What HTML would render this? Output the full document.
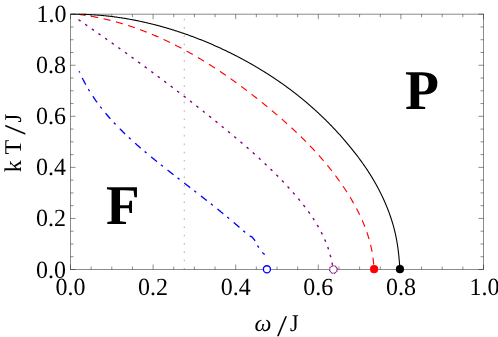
<!DOCTYPE html>
<html><head><meta charset="utf-8"><title>Phase diagram</title>
<style>
html,body{margin:0;padding:0;background:#fff;}
body{width:498px;height:337px;position:relative;overflow:hidden;font-family:"Liberation Serif",serif;}
svg text{font-family:"Liberation Serif",serif;fill:#000;text-rendering:geometricPrecision;}
</style></head><body>
<svg width="498" height="337" viewBox="0 0 498 337" style="position:absolute;left:0;top:0;will-change:transform">
<rect width="498" height="337" fill="#fff"/>
<line x1="184.3" y1="269.5" x2="184.3" y2="14.2" stroke="#b8b8b8" stroke-width="1.2" stroke-dasharray="1.5 6.807"/>
<path d="M79.18,71.20 L79.32,71.52 L79.46,71.84 L79.60,72.16 L79.74,72.48 L79.88,72.79 L80.02,73.11 L80.17,73.42 L80.31,73.74 L80.45,74.05 L80.60,74.37 L80.74,74.68 L80.89,75.00 L81.03,75.31 L81.18,75.62 L81.33,75.93 L81.48,76.25 L81.63,76.56 L81.77,76.87 L81.93,77.18 L82.08,77.49 L82.23,77.80 L82.38,78.11 L82.53,78.41 L82.69,78.72 L82.84,79.03 L82.99,79.34 L83.15,79.64 L83.30,79.95 L83.46,80.25 L83.62,80.56 L83.78,80.86 L83.93,81.17 L84.09,81.47 L84.25,81.77 L84.41,82.08 L84.57,82.38 L84.73,82.68 L84.90,82.98 L85.06,83.28 L85.22,83.58 L85.38,83.88 L85.55,84.18 L85.71,84.48 L85.88,84.78 L86.04,85.08 L86.21,85.38 L86.38,85.68 L86.55,85.97 L86.71,86.27 L86.88,86.57 L87.05,86.86 L87.22,87.16 L87.39,87.45 L87.56,87.75 L87.74,88.04 L87.91,88.33 L88.08,88.63 L88.25,88.92 L88.43,89.21 L88.60,89.50 L88.78,89.80 L88.95,90.09 L89.13,90.38 L89.31,90.67 L89.48,90.96 L89.66,91.25 L89.84,91.54 L90.02,91.82 L90.20,92.11 L90.38,92.40 L90.56,92.69 L90.74,92.97 L90.92,93.26 L91.10,93.55 L91.29,93.83 L91.47,94.12 L91.65,94.40 L91.84,94.69 L92.02,94.97 L92.21,95.26 L92.39,95.54 L92.58,95.82 L92.77,96.10 L92.95,96.39 L93.14,96.67 L93.33,96.95 L93.52,97.23 L93.71,97.51 L93.90,97.79 L94.09,98.07 L94.28,98.35 L94.47,98.63 L94.66,98.91 L94.86,99.19 L95.05,99.46 L95.24,99.74 L95.44,100.02 L95.63,100.29 L95.83,100.57 L96.02,100.85 L96.22,101.12 L96.41,101.40 L96.61,101.67 L96.81,101.95 L97.01,102.22 L97.21,102.49 L97.40,102.77 L97.60,103.04 L97.80,103.31 L98.00,103.58 L98.21,103.86 L98.41,104.13 L98.61,104.40 L98.81,104.67 L99.01,104.94 L99.22,105.21 L99.42,105.48 L99.62,105.75 L99.83,106.02 L100.03,106.29 L100.24,106.55 L100.45,106.82 L100.65,107.09 L100.86,107.36 L101.07,107.62 L101.27,107.89 L101.48,108.16 L101.69,108.42 L101.90,108.69 L102.11,108.95 L102.32,109.22 L102.53,109.48 L102.74,109.75 L102.95,110.01 L103.16,110.27 L103.38,110.54 L103.59,110.80 L103.80,111.06 L104.02,111.32 L104.23,111.58 L104.44,111.85 L104.66,112.11 L104.87,112.37 L105.09,112.63 L105.31,112.89 L105.52,113.15 L105.74,113.41 L105.96,113.67 L106.17,113.92 L106.39,114.18 L106.61,114.44 L106.83,114.70 L107.05,114.96 L107.27,115.21 L107.49,115.47 L107.71,115.73 L107.93,115.98 L108.15,116.24 L108.37,116.49 L108.59,116.75 L108.82,117.00 L109.04,117.26 L109.26,117.51 L109.49,117.77 L109.71,118.02 L109.94,118.27 L110.16,118.53 L110.39,118.78 L110.61,119.03 L110.84,119.28 L111.06,119.54 L111.29,119.79 L111.52,120.04 L111.74,120.29 L111.97,120.54 L112.20,120.79 L112.43,121.04 L112.66,121.29 L112.89,121.54 L113.12,121.79 L113.35,122.04 L113.58,122.29 L113.81,122.53 L114.04,122.78 L114.27,123.03 L114.50,123.28 L114.73,123.52 L114.97,123.77 L115.20,124.02 L115.43,124.26 L115.67,124.51 L115.90,124.76 L116.13,125.00 L116.37,125.25 L116.60,125.49 L116.84,125.74 L117.07,125.98 L117.31,126.22 L117.55,126.47 L117.78,126.71 L118.02,126.95 L118.26,127.20 L118.49,127.44 L118.73,127.68 L118.97,127.93 L119.21,128.17 L119.45,128.41 L119.69,128.65 L119.93,128.89 L120.17,129.13 L120.41,129.37 L120.65,129.61 L120.89,129.85 L121.13,130.09 L121.37,130.33 L121.61,130.57 L121.85,130.81 L122.09,131.05 L122.34,131.29 L122.58,131.53 L122.82,131.77 L123.07,132.00 L123.31,132.24 L123.55,132.48 L123.80,132.72 L124.04,132.95 L124.29,133.19 L124.53,133.43 L124.78,133.66 L125.02,133.90 L125.27,134.13 L125.51,134.37 L125.76,134.61 L126.01,134.84 L126.25,135.08 L126.50,135.31 L126.75,135.54 L127.00,135.78 L127.24,136.01 L127.49,136.25 L127.74,136.48 L127.99,136.71 L128.24,136.95 L128.49,137.18 L128.74,137.41 L128.99,137.64 L129.24,137.88 L129.49,138.11 L129.74,138.34 L129.99,138.57 L130.24,138.80 L130.49,139.03 L130.74,139.26 L130.99,139.50 L131.24,139.73 L131.50,139.96 L131.75,140.19 L132.00,140.42 L132.25,140.65 L132.51,140.87 L132.76,141.10 L133.01,141.33 L133.27,141.56 L133.52,141.79 L133.78,142.02 L134.03,142.25 L134.29,142.48 L134.54,142.70 L134.80,142.93 L135.05,143.16 L135.31,143.39 L135.56,143.61 L135.82,143.84 L136.07,144.07 L136.33,144.29 L136.59,144.52 L136.84,144.75 L137.10,144.97 L137.36,145.20 L137.61,145.42 L137.87,145.65 L138.13,145.87 L138.39,146.10 L138.64,146.32 L138.90,146.55 L139.16,146.77 L139.42,147.00 L139.68,147.22 L139.94,147.45 L140.20,147.67 L140.46,147.89 L140.72,148.12 L140.98,148.34 L141.23,148.56 L141.49,148.79 L141.75,149.01 L142.02,149.23 L142.28,149.45 L142.54,149.68 L142.80,149.90 L143.06,150.12 L143.32,150.34 L143.58,150.56 L143.84,150.79 L144.10,151.01 L144.36,151.23 L144.63,151.45 L144.89,151.67 L145.15,151.89 L145.41,152.11 L145.68,152.33 L145.94,152.55 L146.20,152.77 L146.46,152.99 L146.73,153.21 L146.99,153.43 L147.25,153.65 L147.52,153.87 L147.78,154.09 L148.04,154.31 L148.31,154.53 L148.57,154.75 L148.84,154.97 L149.10,155.19 L149.36,155.41 L149.63,155.62 L149.89,155.84 L150.16,156.06 L150.42,156.28 L150.69,156.50 L150.95,156.72 L151.22,156.93 L151.48,157.15 L151.75,157.37 L152.01,157.59 L152.28,157.80 L152.54,158.02 L152.81,158.24 L153.07,158.45 L153.34,158.67 L153.61,158.89 L153.87,159.10 L154.14,159.32 L154.40,159.54 L154.67,159.75 L154.94,159.97 L155.20,160.18 L155.47,160.40 L155.74,160.62 L156.00,160.83 L156.27,161.05 L156.54,161.26 L156.80,161.48 L157.07,161.69 L157.34,161.91 L157.60,162.12 L157.87,162.34 L158.14,162.55 L158.41,162.77 L158.67,162.98 L158.94,163.20 L159.21,163.41 L159.48,163.63 L159.74,163.84 L160.01,164.06 L160.28,164.27 L160.55,164.48 L160.81,164.70 L161.08,164.91 L161.35,165.13 L161.62,165.34 L161.89,165.55 L162.16,165.77 L162.42,165.98 L162.69,166.19 L162.96,166.41 L163.23,166.62 L163.50,166.83 L163.77,167.05 L164.03,167.26 L164.30,167.47 L164.57,167.69 L164.84,167.90 L165.11,168.11 L165.38,168.32 L165.65,168.54 L165.92,168.75 L166.18,168.96 L166.45,169.17 L166.72,169.39 L166.99,169.60 L167.26,169.81 L167.53,170.02 L167.80,170.23 L168.07,170.45 L168.34,170.66 L168.61,170.87 L168.88,171.08 L169.15,171.29 L169.41,171.50 L169.68,171.72 L169.95,171.93 L170.22,172.14 L170.49,172.35 L170.76,172.56 L171.03,172.77 L171.30,172.98 L171.57,173.19 L171.84,173.41 L172.11,173.62 L172.38,173.83 L172.65,174.04 L172.92,174.25 L173.19,174.46 L173.46,174.67 L173.73,174.88 L174.00,175.09 L174.27,175.30 L174.54,175.51 L174.81,175.72 L175.08,175.93 L175.35,176.15 L175.62,176.36 L175.89,176.57 L176.16,176.78 L176.43,176.99 L176.70,177.20 L176.97,177.41 L177.24,177.62 L177.51,177.83 L177.78,178.04 L178.06,178.25 L178.33,178.46 L178.60,178.67 L178.87,178.88 L179.14,179.09 L179.41,179.30 L179.68,179.51 L179.95,179.72 L180.22,179.93 L180.49,180.14 L180.76,180.35 L181.03,180.56 L181.30,180.77 L181.57,180.98 L181.84,181.19 L182.11,181.39 L182.38,181.60 L182.65,181.81 L182.92,182.02 L183.20,182.23 L183.47,182.44 L183.74,182.65 L184.01,182.86 L184.28,183.07 L184.55,183.28 L184.82,183.49 L185.09,183.70 L185.36,183.91 L185.63,184.12 L185.90,184.33 L186.17,184.54 L186.44,184.75 L186.71,184.96 L186.98,185.17 L187.25,185.37 L187.53,185.58 L187.80,185.79 L188.07,186.00 L188.34,186.21 L188.61,186.42 L188.88,186.63 L189.15,186.84 L189.42,187.05 L189.69,187.26 L189.96,187.47 L190.23,187.68 L190.50,187.89 L190.77,188.10 L191.04,188.31 L191.31,188.51 L191.58,188.72 L191.85,188.93 L192.13,189.14 L192.40,189.35 L192.67,189.56 L192.94,189.77 L193.21,189.98 L193.48,190.19 L193.75,190.40 L194.02,190.61 L194.29,190.82 L194.56,191.03 L194.83,191.24 L195.10,191.45 L195.37,191.66 L195.64,191.87 L195.91,192.07 L196.18,192.28 L196.45,192.49 L196.72,192.70 L196.99,192.91 L197.26,193.12 L197.53,193.33 L197.80,193.54 L198.07,193.75 L198.34,193.96 L198.61,194.17 L198.88,194.38 L199.15,194.59 L199.42,194.80 L199.69,195.01 L199.96,195.22 L200.23,195.43 L200.50,195.64 L200.77,195.85 L201.04,196.06 L201.31,196.27 L201.58,196.48 L201.85,196.69 L202.11,196.90 L202.38,197.11 L202.65,197.32 L202.92,197.53 L203.19,197.74 L203.46,197.95 L203.73,198.16 L204.00,198.37 L204.27,198.58 L204.54,198.79 L204.81,199.01 L205.08,199.22 L205.34,199.43 L205.61,199.64 L205.88,199.85 L206.15,200.06 L206.42,200.27 L206.69,200.48 L206.96,200.69 L207.23,200.90 L207.49,201.11 L207.76,201.33 L208.03,201.54 L208.30,201.75 L208.57,201.96 L208.84,202.17 L209.10,202.38 L209.37,202.59 L209.64,202.81 L209.91,203.02 L210.18,203.23 L210.44,203.44 L210.71,203.65 L210.98,203.86 L211.25,204.08 L211.51,204.29 L211.78,204.50 L212.05,204.71 L212.32,204.92 L212.58,205.14 L212.85,205.35 L213.12,205.56 L213.39,205.77 L213.65,205.99 L213.92,206.20 L214.19,206.41 L214.45,206.63 L214.72,206.84 L214.99,207.05 L215.25,207.26 L215.52,207.48 L215.79,207.69 L216.05,207.90 L216.32,208.12 L216.59,208.33 L216.85,208.54 L217.12,208.76 L217.38,208.97 L217.65,209.19 L217.92,209.40 L218.18,209.61 L218.45,209.83 L218.71,210.04 L218.98,210.26 L219.24,210.47 L219.51,210.68 L219.77,210.90 L220.04,211.11 L220.30,211.33 L220.57,211.54 L220.83,211.76 L221.10,211.97 L221.36,212.19 L221.63,212.40 L221.89,212.62 L222.16,212.83 L222.42,213.05 L222.69,213.26 L222.95,213.48 L223.21,213.70 L223.48,213.91 L223.74,214.13 L224.01,214.34 L224.27,214.56 L224.53,214.78 L224.80,214.99 L225.06,215.21 L225.32,215.43 L225.59,215.64 L225.85,215.86 L226.11,216.08 L226.38,216.29 L226.64,216.51 L226.90,216.73 L227.17,216.95 L227.43,217.16 L227.69,217.38 L227.95,217.60 L228.21,217.82 L228.48,218.03 L228.74,218.25 L229.00,218.47 L229.26,218.69 L229.52,218.91 L229.79,219.13 L230.05,219.34 L230.31,219.56 L230.57,219.78 L230.83,220.00 L231.09,220.22 L231.35,220.44 L231.61,220.66 L231.88,220.88 L232.14,221.10 L232.40,221.32 L232.66,221.54 L232.92,221.76 L233.18,221.98 L233.44,222.20 L233.70,222.42 L233.96,222.64 L234.22,222.86 L234.48,223.08 L234.74,223.30 L234.99,223.52 L235.25,223.75 L235.51,223.97 L235.77,224.19 L236.03,224.41 L236.29,224.63 L236.55,224.85 L236.81,225.08 L237.06,225.30 L237.32,225.52 L237.58,225.74 L237.84,225.97 L238.10,226.19 L238.35,226.41 L238.61,226.64 L238.87,226.86 L239.13,227.08 L239.38,227.31 L239.64,227.53 L239.90,227.76 L240.15,227.98 L240.41,228.20 L240.67,228.43 L240.92,228.65 L241.18,228.88 L241.43,229.10 L241.69,229.33 L241.95,229.55 L242.20,229.78 L242.46,230.00 L242.71,230.23 L242.97,230.46 L243.22,230.68 L243.48,230.91 L243.73,231.14 L243.99,231.36 L244.24,231.59 L244.50,231.82 L244.75,232.04 L245.00,232.27 L245.26,232.50 L245.51,232.73 L245.77,232.95 L246.02,233.18 L246.27,233.41 L246.53,233.64 L246.78,233.87 L247.03,234.09 L247.28,234.32 L247.54,234.55 L247.79,234.78 L248.04,235.01 L248.29,235.24 L248.54,235.47 L248.80,235.70 L249.25,236.20 L249.67,236.23 L250.09,236.29 L250.49,236.37 L250.90,236.49 L251.30,236.65 L251.67,236.83 L252.00,237.06 L252.30,237.33 L252.59,237.65 L252.87,237.98 L253.14,238.31 L253.42,238.64 L253.68,238.96 L253.95,239.28 L254.21,239.62 L254.46,239.96 L254.70,240.30 L254.93,240.64 L255.15,241.00 L255.37,241.35 L255.57,241.72 L255.77,242.08 L255.97,242.46 L256.16,242.83 L256.35,243.20 L256.54,243.58 L256.73,243.96 L256.92,244.34 L257.11,244.71 L257.30,245.08 L257.50,245.45 L257.70,245.82 L257.91,246.18 L258.13,246.54 L258.35,246.90 L258.57,247.25 L258.79,247.61 L259.02,247.96 L259.25,248.31 L259.48,248.67 L259.72,249.02 L259.96,249.36 L260.20,249.71 L260.45,250.05 L260.70,250.39 L260.95,250.72 L261.21,251.05 L261.47,251.38 L261.74,251.70 L262.01,252.01 L262.29,252.32 L262.57,252.62 L262.87,252.91 L263.17,253.21 L263.47,253.49 L263.79,253.78 L264.10,254.06 L264.42,254.33 L264.75,254.60" fill="none" stroke="#0000ff" stroke-width="1.35" stroke-dasharray="2.4 6.02 7.5 5.18" stroke-dashoffset="0.92"/>
<path d="M78.20,19.45 L78.63,19.75 L79.06,20.04 L79.49,20.34 L79.92,20.64 L80.35,20.94 L80.78,21.23 L81.21,21.53 L81.64,21.83 L82.07,22.12 L82.50,22.42 L82.93,22.72 L83.36,23.02 L83.79,23.31 L84.22,23.61 L84.65,23.91 L85.08,24.21 L85.51,24.50 L85.94,24.80 L86.37,25.10 L86.80,25.40 L87.23,25.69 L87.66,25.99 L88.09,26.29 L88.52,26.59 L88.95,26.89 L89.38,27.18 L89.81,27.48 L90.24,27.78 L90.66,28.08 L91.09,28.38 L91.52,28.67 L91.95,28.97 L92.38,29.27 L92.81,29.57 L93.24,29.87 L93.66,30.17 L94.09,30.47 L94.52,30.76 L94.95,31.06 L95.38,31.36 L95.81,31.66 L96.23,31.96 L96.66,32.26 L97.09,32.56 L97.52,32.86 L97.94,33.16 L98.37,33.46 L98.80,33.76 L99.23,34.05 L99.65,34.35 L100.08,34.65 L100.51,34.95 L100.94,35.25 L101.36,35.55 L101.79,35.85 L102.22,36.15 L102.64,36.45 L103.07,36.75 L103.50,37.05 L103.92,37.35 L104.35,37.65 L104.78,37.95 L105.20,38.25 L105.63,38.55 L106.05,38.85 L106.48,39.15 L106.91,39.45 L107.33,39.76 L107.76,40.06 L108.18,40.36 L108.61,40.66 L109.04,40.96 L109.46,41.26 L109.89,41.56 L110.31,41.86 L110.74,42.16 L111.16,42.46 L111.59,42.77 L112.01,43.07 L112.44,43.37 L112.86,43.67 L113.29,43.97 L113.71,44.27 L114.14,44.57 L114.56,44.88 L114.99,45.18 L115.41,45.48 L115.83,45.78 L116.26,46.08 L116.68,46.39 L117.11,46.69 L117.53,46.99 L117.96,47.29 L118.38,47.60 L118.80,47.90 L119.23,48.20 L119.65,48.50 L120.07,48.81 L120.50,49.11 L120.92,49.41 L121.34,49.72 L121.77,50.02 L122.19,50.32 L122.61,50.63 L123.04,50.93 L123.46,51.23 L123.88,51.54 L124.31,51.84 L124.73,52.14 L125.15,52.45 L125.57,52.75 L126.00,53.05 L126.42,53.36 L126.84,53.66 L127.26,53.97 L127.69,54.27 L128.11,54.58 L128.53,54.88 L128.95,55.18 L129.37,55.49 L129.80,55.79 L130.22,56.10 L130.64,56.40 L131.06,56.71 L131.48,57.01 L131.91,57.32 L132.33,57.62 L132.75,57.93 L133.17,58.23 L133.59,58.54 L134.01,58.84 L134.43,59.15 L134.85,59.46 L135.27,59.76 L135.69,60.07 L136.12,60.37 L136.54,60.68 L136.96,60.98 L137.38,61.29 L137.80,61.60 L138.22,61.90 L138.64,62.21 L139.06,62.52 L139.48,62.82 L139.90,63.13 L140.32,63.44 L140.74,63.74 L141.16,64.05 L141.58,64.36 L142.00,64.66 L142.42,64.97 L142.84,65.28 L143.26,65.59 L143.68,65.89 L144.09,66.20 L144.51,66.51 L144.93,66.82 L145.35,67.13 L145.77,67.43 L146.19,67.74 L146.61,68.05 L147.03,68.36 L147.45,68.67 L147.86,68.97 L148.28,69.28 L148.70,69.59 L149.12,69.90 L149.54,70.21 L149.96,70.52 L150.37,70.83 L150.79,71.14 L151.21,71.45 L151.63,71.76 L152.05,72.06 L152.46,72.37 L152.88,72.68 L153.30,72.99 L153.72,73.30 L154.13,73.61 L154.55,73.92 L154.97,74.23 L155.38,74.54 L155.80,74.85 L156.22,75.16 L156.64,75.48 L157.05,75.79 L157.47,76.10 L157.89,76.41 L158.30,76.72 L158.72,77.03 L159.13,77.34 L159.55,77.65 L159.97,77.96 L160.38,78.28 L160.80,78.59 L161.22,78.90 L161.63,79.21 L162.05,79.52 L162.46,79.83 L162.88,80.15 L163.29,80.46 L163.71,80.77 L164.13,81.08 L164.54,81.40 L164.96,81.71 L165.37,82.02 L165.79,82.33 L166.20,82.65 L166.62,82.96 L167.03,83.27 L167.45,83.59 L167.86,83.90 L168.28,84.21 L168.69,84.53 L169.11,84.84 L169.52,85.16 L169.93,85.47 L170.35,85.78 L170.76,86.10 L171.18,86.41 L171.59,86.73 L172.01,87.04 L172.42,87.36 L172.83,87.67 L173.25,87.98 L173.66,88.30 L174.07,88.62 L174.49,88.93 L174.90,89.25 L175.31,89.56 L175.73,89.88 L176.14,90.19 L176.55,90.51 L176.97,90.82 L177.38,91.14 L177.79,91.46 L178.21,91.77 L178.62,92.09 L179.03,92.41 L179.44,92.72 L179.86,93.04 L180.27,93.36 L180.68,93.67 L181.09,93.99 L181.51,94.31 L181.92,94.62 L182.33,94.94 L182.74,95.26 L183.15,95.58 L183.56,95.89 L183.98,96.21 L184.39,96.53 L184.80,96.85 L185.21,97.17 L185.62,97.49 L186.03,97.80 L186.45,98.12 L186.86,98.44 L187.27,98.76 L187.68,99.08 L188.09,99.40 L188.50,99.72 L188.91,100.04 L189.32,100.36 L189.73,100.68 L190.14,101.00 L190.55,101.32 L190.96,101.64 L191.37,101.96 L191.78,102.28 L192.19,102.60 L192.60,102.92 L193.01,103.24 L193.42,103.56 L193.83,103.88 L194.24,104.20 L194.65,104.52 L195.06,104.84 L195.47,105.17 L195.88,105.49 L196.29,105.81 L196.70,106.13 L197.11,106.45 L197.52,106.78 L197.93,107.10 L198.34,107.42 L198.74,107.74 L199.15,108.07 L199.56,108.39 L199.97,108.71 L200.38,109.03 L200.79,109.36 L201.20,109.68 L201.60,110.00 L202.01,110.33 L202.42,110.65 L202.83,110.98 L203.24,111.30 L203.64,111.62 L204.05,111.95 L204.46,112.27 L204.87,112.60 L205.27,112.92 L205.68,113.25 L206.09,113.57 L206.50,113.90 L206.90,114.22 L207.31,114.55 L207.72,114.87 L208.13,115.20 L208.53,115.52 L208.94,115.85 L209.35,116.18 L209.75,116.50 L210.16,116.83 L210.57,117.16 L210.97,117.48 L211.38,117.81 L211.78,118.14 L212.19,118.46 L212.60,118.79 L213.00,119.12 L213.41,119.44 L213.81,119.77 L214.22,120.10 L214.63,120.43 L215.03,120.76 L215.44,121.08 L215.84,121.41 L216.25,121.74 L216.65,122.07 L217.06,122.40 L217.46,122.73 L217.87,123.06 L218.27,123.39 L218.68,123.72 L219.08,124.04 L219.49,124.37 L219.89,124.70 L220.30,125.03 L220.70,125.36 L221.11,125.69 L221.51,126.03 L221.91,126.36 L222.32,126.69 L222.72,127.02 L223.13,127.35 L223.53,127.68 L223.93,128.01 L224.34,128.34 L224.74,128.67 L225.15,129.01 L225.55,129.34 L225.95,129.67 L226.36,130.00 L226.76,130.33 L227.16,130.67 L227.57,131.00 L227.97,131.33 L228.37,131.67 L228.77,132.00 L229.18,132.33 L229.58,132.67 L229.98,133.00 L230.38,133.33 L230.78,133.67 L231.19,134.00 L231.59,134.34 L231.99,134.67 L232.39,135.01 L232.79,135.34 L233.19,135.68 L233.59,136.01 L233.99,136.35 L234.40,136.69 L234.80,137.02 L235.20,137.36 L235.60,137.69 L236.00,138.03 L236.40,138.37 L236.80,138.71 L237.20,139.04 L237.59,139.38 L237.99,139.72 L238.39,140.06 L238.79,140.40 L239.19,140.73 L239.59,141.07 L239.99,141.41 L240.38,141.75 L240.78,142.09 L241.18,142.43 L241.58,142.77 L241.97,143.11 L242.37,143.45 L242.77,143.79 L243.17,144.13 L243.56,144.47 L243.96,144.82 L244.35,145.16 L244.75,145.50 L245.14,145.84 L245.54,146.18 L245.93,146.53 L246.33,146.87 L246.72,147.21 L247.12,147.56 L247.51,147.90 L247.91,148.25 L248.30,148.59 L248.69,148.93 L249.09,149.28 L249.48,149.62 L249.87,149.97 L250.26,150.32 L250.66,150.66 L251.05,151.01 L251.44,151.36 L251.83,151.70 L252.22,152.05 L252.61,152.40 L253.00,152.74 L253.39,153.09 L253.78,153.44 L254.17,153.79 L254.56,154.14 L254.95,154.49 L255.34,154.84 L255.73,155.19 L256.12,155.54 L256.50,155.89 L256.89,156.24 L257.28,156.59 L257.66,156.94 L258.05,157.29 L258.44,157.65 L258.82,158.00 L259.21,158.35 L259.59,158.70 L259.98,159.06 L260.36,159.41 L260.75,159.77 L261.13,160.12 L261.51,160.48 L261.90,160.83 L262.28,161.19 L262.66,161.54 L263.05,161.90 L263.43,162.25 L263.81,162.61 L264.19,162.97 L264.57,163.33 L264.95,163.68 L265.33,164.04 L265.71,164.40 L266.09,164.76 L266.47,165.12 L266.85,165.48 L267.23,165.84 L267.60,166.20 L267.98,166.56 L268.36,166.92 L268.74,167.28 L269.11,167.65 L269.49,168.01 L269.86,168.37 L270.24,168.73 L270.61,169.10 L270.99,169.46 L271.36,169.83 L271.73,170.19 L272.11,170.55 L272.48,170.92 L272.85,171.29 L273.22,171.65 L273.60,172.02 L273.97,172.39 L274.34,172.75 L274.71,173.12 L275.08,173.49 L275.45,173.86 L275.82,174.23 L276.18,174.60 L276.55,174.97 L276.92,175.34 L277.29,175.71 L277.65,176.08 L278.02,176.45 L278.38,176.82 L278.75,177.20 L279.11,177.57 L279.48,177.94 L279.84,178.31 L280.21,178.69 L280.57,179.06 L280.93,179.44 L281.29,179.81 L281.65,180.19 L282.02,180.57 L282.38,180.94 L282.74,181.32 L283.10,181.70 L283.45,182.08 L283.81,182.46 L284.17,182.83 L284.53,183.21 L284.89,183.59 L285.24,183.97 L285.60,184.36 L285.95,184.74 L286.31,185.12 L286.66,185.50 L287.02,185.88 L287.37,186.27 L287.72,186.65 L288.08,187.03 L288.43,187.42 L288.78,187.80 L289.13,188.19 L289.48,188.58 L289.83,188.96 L290.18,189.35 L290.53,189.74 L290.88,190.13 L291.22,190.51 L291.57,190.90 L291.92,191.29 L292.26,191.68 L292.61,192.07 L292.95,192.47 L293.30,192.86 L293.64,193.25 L293.98,193.64 L294.33,194.03 L294.67,194.43 L295.01,194.82 L295.35,195.22 L295.69,195.61 L296.03,196.01 L296.37,196.40 L296.71,196.80 L297.04,197.20 L297.38,197.60 L297.72,198.00 L298.05,198.39 L298.39,198.79 L298.72,199.19 L299.05,199.60 L299.38,200.00 L299.72,200.40 L300.05,200.80 L300.38,201.20 L300.71,201.61 L301.03,202.01 L301.36,202.42 L301.69,202.82 L302.01,203.23 L302.34,203.63 L302.66,204.04 L302.98,204.45 L303.31,204.86 L303.63,205.27 L303.95,205.68 L304.27,206.09 L304.58,206.50 L304.90,206.91 L305.22,207.32 L305.53,207.74 L305.85,208.15 L306.16,208.56 L306.47,208.98 L306.78,209.39 L307.09,209.81 L307.40,210.23 L307.71,210.65 L308.02,211.06 L308.32,211.48 L308.62,211.90 L308.93,212.32 L309.23,212.74 L309.53,213.17 L309.83,213.59 L310.13,214.01 L310.42,214.44 L310.72,214.86 L311.02,215.29 L311.31,215.71 L311.60,216.14 L311.89,216.57 L312.18,216.99 L312.47,217.42 L312.76,217.85 L313.04,218.28 L313.32,218.71 L313.61,219.15 L313.89,219.58 L314.17,220.01 L314.45,220.45 L314.72,220.88 L315.00,221.32 L315.27,221.76 L315.55,222.19 L315.82,222.63 L316.09,223.07 L316.36,223.51 L316.62,223.95 L316.89,224.39 L317.15,224.83 L317.41,225.28 L317.67,225.72 L317.93,226.17 L318.19,226.61 L318.45,227.06 L318.70,227.51 L318.95,227.95 L319.20,228.40 L319.45,228.85 L319.70,229.30 L319.95,229.75 L320.19,230.21 L320.43,230.66 L320.67,231.11 L320.91,231.57 L321.15,232.02 L321.39,232.48 L321.62,232.94 L321.85,233.40 L322.08,233.86 L322.31,234.32 L322.54,234.78 L322.76,235.24 L322.98,235.70 L323.20,236.17 L323.42,236.63 L323.64,237.10 L323.86,237.56 L324.07,238.03 L324.28,238.50 L324.49,238.97 L324.70,239.44 L324.90,239.91 L325.11,240.38 L325.31,240.86 L325.51,241.33 L325.71,241.81 L325.90,242.28 L326.09,242.76 L326.29,243.24 L326.48,243.72 L326.66,244.20 L326.85,244.68 L327.03,245.16 L327.21,245.64 L327.39,246.13 L327.57,246.61 L327.74,247.10 L327.91,247.58 L328.08,248.07 L328.25,248.56 L328.42,249.05 L328.58,249.54 L328.74,250.03 L328.90,250.53 L329.06,251.02 L329.21,251.52 L329.36,252.01 L329.51,252.51 L329.66,253.01 L329.81,253.51 L329.95,254.01 L330.09,254.51 L330.23,255.01 L330.36,255.52 L330.50,256.02 L330.63,256.53 L330.76,257.03 L330.88,257.54 L331.01,258.05 L331.13,258.56 L331.25,259.07 L331.36,259.58 L331.48,260.10 L331.59,260.61 L331.70,261.13 L331.80,261.64 L331.91,262.16 L332.01,262.68 L332.11,263.20 L332.20,263.72 L332.29,264.25 L332.39,264.77" fill="none" stroke="#800080" stroke-width="1.4" stroke-dasharray="2.5 5.62" stroke-dashoffset="-0.34"/>
<path d="M78.00,14.28 L78.59,14.35 L79.19,14.43 L79.78,14.51 L80.37,14.59 L80.97,14.67 L81.56,14.75 L82.15,14.83 L82.74,14.92 L83.33,15.00 L83.93,15.09 L84.52,15.18 L85.11,15.27 L85.70,15.36 L86.29,15.45 L86.87,15.54 L87.46,15.64 L88.05,15.73 L88.64,15.83 L89.23,15.93 L89.81,16.03 L90.40,16.13 L90.99,16.23 L91.57,16.34 L92.16,16.44 L92.74,16.55 L93.33,16.66 L93.91,16.77 L94.49,16.88 L95.08,16.99 L95.66,17.10 L96.24,17.21 L96.82,17.33 L97.40,17.45 L97.99,17.56 L98.57,17.68 L99.15,17.80 L99.73,17.93 L100.31,18.05 L100.88,18.17 L101.46,18.30 L102.04,18.42 L102.62,18.55 L103.20,18.68 L103.77,18.81 L104.35,18.94 L104.93,19.07 L105.50,19.21 L106.08,19.34 L106.65,19.48 L107.23,19.62 L107.80,19.76 L108.37,19.90 L108.95,20.04 L109.52,20.18 L110.09,20.32 L110.66,20.47 L111.24,20.61 L111.81,20.76 L112.38,20.91 L112.95,21.06 L113.52,21.21 L114.09,21.36 L114.66,21.51 L115.22,21.67 L115.79,21.82 L116.36,21.98 L116.93,22.14 L117.50,22.30 L118.06,22.46 L118.63,22.62 L119.19,22.78 L119.76,22.94 L120.33,23.11 L120.89,23.27 L121.45,23.44 L122.02,23.61 L122.58,23.78 L123.14,23.95 L123.71,24.12 L124.27,24.29 L124.83,24.46 L125.39,24.64 L125.95,24.81 L126.51,24.99 L127.07,25.17 L127.63,25.35 L128.19,25.53 L128.75,25.71 L129.31,25.89 L129.87,26.08 L130.43,26.26 L130.98,26.45 L131.54,26.63 L132.10,26.82 L132.65,27.01 L133.21,27.20 L133.77,27.39 L134.32,27.58 L134.88,27.78 L135.43,27.97 L135.98,28.17 L136.54,28.36 L137.09,28.56 L137.64,28.76 L138.20,28.96 L138.75,29.16 L139.30,29.36 L139.85,29.56 L140.40,29.77 L140.95,29.97 L141.50,30.18 L142.05,30.38 L142.60,30.59 L143.15,30.80 L143.70,31.01 L144.24,31.22 L144.79,31.43 L145.34,31.65 L145.89,31.86 L146.43,32.08 L146.98,32.29 L147.52,32.51 L148.07,32.73 L148.61,32.95 L149.16,33.17 L149.70,33.39 L150.25,33.61 L150.79,33.83 L151.33,34.06 L151.87,34.28 L152.42,34.51 L152.96,34.74 L153.50,34.96 L154.04,35.19 L154.58,35.42 L155.12,35.65 L155.66,35.88 L156.20,36.12 L156.74,36.35 L157.28,36.59 L157.81,36.82 L158.35,37.06 L158.89,37.30 L159.43,37.53 L159.96,37.77 L160.50,38.01 L161.04,38.26 L161.57,38.50 L162.11,38.74 L162.64,38.98 L163.18,39.23 L163.71,39.48 L164.24,39.72 L164.78,39.97 L165.31,40.22 L165.84,40.47 L166.37,40.72 L166.90,40.97 L167.44,41.22 L167.97,41.48 L168.50,41.73 L169.03,41.99 L169.56,42.24 L170.09,42.50 L170.62,42.76 L171.14,43.01 L171.67,43.27 L172.20,43.53 L172.73,43.80 L173.25,44.06 L173.78,44.32 L174.31,44.58 L174.83,44.85" fill="none" stroke="#ff0000" stroke-width="1.15" stroke-dasharray="7.1 5.6" stroke-dashoffset="-0.6"/>
<path d="M174.83,44.85 L175.36,45.11 L175.88,45.38 L176.41,45.65 L176.93,45.92 L177.46,46.18 L177.98,46.45 L178.50,46.72 L179.03,47.00 L179.55,47.27 L180.07,47.54 L180.59,47.82 L181.11,48.09 L181.64,48.37 L182.16,48.64 L182.68,48.92 L183.20,49.20 L183.72,49.48 L184.23,49.76 L184.75,50.04 L185.27,50.32 L185.79,50.60 L186.31,50.88 L186.82,51.17 L187.34,51.45 L187.86,51.74 L188.37,52.02 L188.89,52.31 L189.40,52.60 L189.92,52.88 L190.43,53.17 L190.95,53.46 L191.46,53.75 L191.98,54.05 L192.49,54.34 L193.00,54.63 L193.51,54.93 L194.03,55.22 L194.54,55.52 L195.05,55.81 L195.56,56.11 L196.07,56.41 L196.58,56.70 L197.09,57.00 L197.60,57.30 L198.11,57.60 L198.62,57.90 L199.13,58.21 L199.63,58.51 L200.14,58.81 L200.65,59.12 L201.16,59.42 L201.66,59.73 L202.17,60.03 L202.67,60.34 L203.18,60.65 L203.69,60.96 L204.19,61.27 L204.69,61.58 L205.20,61.89 L205.70,62.20 L206.21,62.51 L206.71,62.82 L207.21,63.13 L207.71,63.45 L208.21,63.76 L208.72,64.08 L209.22,64.39 L209.72,64.71 L210.22,65.03 L210.72,65.35 L211.22,65.66 L211.72,65.98 L212.22,66.30 L212.71,66.62 L213.21,66.95 L213.71,67.27 L214.21,67.59 L214.70,67.91 L215.20,68.24 L215.70,68.56 L216.19,68.89 L216.69,69.21 L217.18,69.54 L217.68,69.87 L218.17,70.19 L218.67,70.52 L219.16,70.85 L219.66,71.18 L220.15,71.51 L220.64,71.84 L221.13,72.17 L221.63,72.50 L222.12,72.84 L222.61,73.17 L223.10,73.50 L223.59,73.84 L224.08,74.17 L224.57,74.51 L225.06,74.84 L225.55,75.18 L226.04,75.52 L226.53,75.86 L227.02,76.19 L227.50,76.53 L227.99,76.87 L228.48,77.21 L228.96,77.55 L229.45,77.89 L229.94,78.24 L230.42,78.58 L230.91,78.92 L231.39,79.26 L231.88,79.61 L232.36,79.95 L232.85,80.30 L233.33,80.64 L233.81,80.99 L234.30,81.33 L234.78,81.68 L235.26,82.03 L235.74,82.38 L236.22,82.73 L236.70,83.08 L237.19,83.43 L237.67,83.78 L238.15,84.13 L238.63,84.48 L239.11,84.83 L239.58,85.18 L240.06,85.53 L240.54,85.89 L241.02,86.24 L241.50,86.59 L241.97,86.95 L242.45,87.30 L242.93,87.66 L243.40,88.02 L243.88,88.37 L244.36,88.73 L244.83,89.09 L245.31,89.45 L245.78,89.80 L246.26,90.16 L246.73,90.52 L247.20,90.88 L247.68,91.24 L248.15,91.60 L248.62,91.96 L249.09,92.33 L249.57,92.69 L250.04,93.05 L250.51,93.41 L250.98,93.78 L251.45,94.14 L251.92,94.50 L252.39,94.87 L252.86,95.23 L253.33,95.60 L253.80,95.97 L254.26,96.33 L254.73,96.70 L255.20,97.07 L255.67,97.43 L256.14,97.80 L256.60,98.17 L257.07,98.54 L257.53,98.91 L258.00,99.28 L258.47,99.65 L258.93,100.02 L259.40,100.39 L259.86,100.76 L260.32,101.13 L260.79,101.50 L261.25,101.87 L261.71,102.25 L262.18,102.62 L262.64,102.99 L263.10,103.36 L263.56,103.74 L264.02,104.11 L264.49,104.49 L264.95,104.86 L265.41,105.24 L265.87,105.61 L266.33,105.99 L266.79,106.37 L267.24,106.74 L267.70,107.12 L268.16,107.50 L268.62,107.87 L269.08,108.25 L269.53,108.63 L269.99,109.01 L270.45,109.39 L270.90,109.77 L271.36,110.15 L271.81,110.53 L272.27,110.91 L272.72,111.29 L273.18,111.67 L273.63,112.06 L274.08,112.44 L274.54,112.82 L274.99,113.20 L275.44,113.59 L275.89,113.97 L276.34,114.36 L276.80,114.74 L277.25,115.13 L277.70,115.51 L278.15,115.90 L278.59,116.28 L279.04,116.67 L279.49,117.06 L279.94,117.45 L280.39,117.84 L280.83,118.22 L281.28,118.61 L281.73,119.00 L282.17,119.39 L282.62,119.78 L283.06,120.17 L283.50,120.57 L283.95,120.96 L284.39,121.35 L284.83,121.74 L285.28,122.14 L285.72,122.53 L286.16,122.92 L286.60,123.32 L287.04,123.71 L287.48,124.11 L287.92,124.50 L288.36,124.90 L288.79,125.30 L289.23,125.70 L289.67,126.09 L290.11,126.49 L290.54,126.89 L290.98,127.29 L291.41,127.69 L291.85,128.09 L292.28,128.49 L292.71,128.89 L293.15,129.29 L293.58,129.70 L294.01,130.10 L294.44,130.50 L294.87,130.91 L295.30,131.31 L295.73,131.72 L296.16,132.12 L296.59,132.53 L297.02,132.93 L297.44,133.34 L297.87,133.75 L298.29,134.16 L298.72,134.57 L299.14,134.98 L299.57,135.39 L299.99,135.80 L300.42,136.21 L300.84,136.62 L301.26,137.03 L301.68,137.44 L302.10,137.86 L302.52,138.27 L302.94,138.68 L303.36,139.10 L303.78,139.51 L304.19,139.93 L304.61,140.35 L305.03,140.76 L305.44,141.18 L305.85,141.60 L306.27,142.02 L306.68,142.44 L307.09,142.86 L307.51,143.28 L307.92,143.70 L308.33,144.12 L308.74,144.55 L309.15,144.97 L309.56,145.39 L309.96,145.82 L310.37,146.24 L310.78,146.67 L311.18,147.09 L311.59,147.52 L311.99,147.95 L312.40,148.37 L312.80,148.80 L313.20,149.23 L313.60,149.66 L314.00,150.09 L314.40,150.52 L314.80,150.96 L315.20,151.39 L315.60,151.82 L316.00,152.25 L316.39,152.69 L316.79,153.12 L317.18,153.56 L317.58,154.00 L317.97,154.43 L318.36,154.87 L318.76,155.31 L319.15,155.75 L319.54,156.19 L319.93,156.63 L320.32,157.07 L320.70,157.51 L321.09,157.95 L321.48,158.40 L321.86,158.84 L322.25,159.28 L322.63,159.73 L323.01,160.17 L323.40,160.62 L323.78,161.07 L324.16,161.52 L324.54,161.96 L324.92,162.41 L325.30,162.86 L325.67,163.31 L326.05,163.77 L326.43,164.22 L326.80,164.67 L327.18,165.12 L327.55,165.58 L327.92,166.03 L328.29,166.49 L328.66,166.95 L329.03,167.40 L329.40,167.86 L329.77,168.32 L330.14,168.78 L330.50,169.24 L330.87,169.70 L331.23,170.16 L331.60,170.62 L331.96,171.09 L332.32,171.55 L332.68,172.02 L333.04,172.48 L333.40,172.95 L333.76,173.41 L334.12,173.88 L334.48,174.35 L334.83,174.82 L335.19,175.29 L335.54,175.76 L335.89,176.23 L336.25,176.70 L336.60,177.18 L336.95,177.65 L337.30,178.13 L337.64,178.60 L337.99,179.08 L338.34,179.55 L338.68,180.03 L339.03,180.51 L339.37,180.99 L339.71,181.47 L340.06,181.95 L340.40,182.43 L340.74,182.92 L341.07,183.40 L341.41,183.88 L341.75,184.37 L342.08,184.86 L342.42,185.34 L342.75,185.83 L343.09,186.32 L343.42,186.81 L343.75,187.30 L344.08,187.79 L344.41,188.28 L344.73,188.77 L345.06,189.27 L345.39,189.76 L345.71,190.26 L346.03,190.75 L346.36,191.25 L346.68,191.75 L347.00,192.25 L347.32,192.75 L347.64,193.25 L347.95,193.75 L348.27,194.25 L348.58,194.75 L348.90,195.26 L349.21,195.76 L349.52,196.27 L349.83,196.77 L350.14,197.28 L350.44,197.79 L350.75,198.30 L351.06,198.81 L351.36,199.32 L351.66,199.83 L351.96,200.34 L352.26,200.85 L352.56,201.36 L352.85,201.88 L353.15,202.39 L353.44,202.91 L353.74,203.43 L354.03,203.94 L354.32,204.46 L354.60,204.98 L354.89,205.50 L355.17,206.02 L355.46,206.54 L355.74,207.07 L356.02,207.59 L356.30,208.11 L356.58,208.64 L356.85,209.16 L357.12,209.69 L357.40,210.22 L357.67,210.74 L357.94,211.27 L358.20,211.80 L358.47,212.33 L358.73,212.86 L358.99,213.39 L359.26,213.93 L359.51,214.46 L359.77,214.99 L360.03,215.53 L360.28,216.06 L360.53,216.60 L360.78,217.14 L361.03,217.68 L361.27,218.21 L361.52,218.75 L361.76,219.29 L362.00,219.84 L362.24,220.38 L362.47,220.92 L362.71,221.46 L362.94,222.01 L363.17,222.55 L363.40,223.10 L363.63,223.64 L363.85,224.19 L364.07,224.74 L364.29,225.28 L364.51,225.83 L364.73,226.38 L364.94,226.93 L365.16,227.49 L365.37,228.04 L365.57,228.59 L365.78,229.14 L365.98,229.70 L366.18,230.25 L366.38,230.81 L366.58,231.37 L366.77,231.92 L366.97,232.48 L367.16,233.04 L367.35,233.60 L367.53,234.16 L367.71,234.72 L367.89,235.28 L368.07,235.84 L368.25,236.40 L368.42,236.97 L368.59,237.53 L368.76,238.10 L368.93,238.66 L369.10,239.23 L369.26,239.80 L369.42,240.36 L369.57,240.93 L369.73,241.50 L369.88,242.07 L370.03,242.64 L370.18,243.21 L370.32,243.78 L370.46,244.36 L370.60,244.93 L370.74,245.50 L370.87,246.08 L371.00,246.65 L371.13,247.23 L371.26,247.81 L371.38,248.38 L371.50,248.96 L371.62,249.54 L371.73,250.12 L371.85,250.70 L371.96,251.28 L372.06,251.86 L372.17,252.44 L372.27,253.03 L372.37,253.61 L372.46,254.19 L372.56,254.78 L372.65,255.36 L372.73,255.95 L372.82,256.54 L372.90,257.12 L372.98,257.71 L373.06,258.30 L373.13,258.89 L373.20,259.48 L373.26,260.07 L373.33,260.66 L373.39,261.25 L373.45,261.84 L373.50,262.44 L373.55,263.03 L373.60,263.63 L373.65,264.22 L373.69,264.82 L373.73,265.41 L373.77,266.01 L373.80,266.61 L373.83,267.20 L373.86,267.80 L373.88,268.40 L373.90,269.00" fill="none" stroke="#ff0000" stroke-width="1.15" stroke-dasharray="7.1 5.92" stroke-dashoffset="-0.3"/>
<path d="M70.50,14.20 L71.15,14.19 L71.80,14.19 L72.46,14.18 L73.11,14.18 L73.76,14.18 L74.41,14.17 L75.06,14.18 L75.71,14.18 L76.37,14.18 L77.02,14.19 L77.67,14.19 L78.32,14.20 L78.97,14.21 L79.62,14.22 L80.27,14.23 L80.92,14.25 L81.58,14.26 L82.23,14.28 L82.88,14.30 L83.53,14.32 L84.18,14.34 L84.83,14.36 L85.48,14.38 L86.13,14.41 L86.78,14.44 L87.43,14.46 L88.08,14.49 L88.73,14.52 L89.38,14.56 L90.03,14.59 L90.67,14.62 L91.32,14.66 L91.97,14.70 L92.62,14.74 L93.27,14.78 L93.92,14.82 L94.57,14.86 L95.22,14.91 L95.86,14.95 L96.51,15.00 L97.16,15.05 L97.81,15.10 L98.45,15.15 L99.10,15.21 L99.75,15.26 L100.40,15.32 L101.04,15.37 L101.69,15.43 L102.34,15.49 L102.98,15.55 L103.63,15.61 L104.28,15.68 L104.92,15.74 L105.57,15.81 L106.22,15.88 L106.86,15.95 L107.51,16.02 L108.15,16.09 L108.80,16.16 L109.44,16.24 L110.09,16.31 L110.73,16.39 L111.38,16.47 L112.02,16.55 L112.66,16.63 L113.31,16.71 L113.95,16.79 L114.60,16.88 L115.24,16.97 L115.88,17.05 L116.53,17.14 L117.17,17.23 L117.81,17.32 L118.45,17.42 L119.10,17.51 L119.74,17.61 L120.38,17.70 L121.02,17.80 L121.67,17.90 L122.31,18.00 L122.95,18.10 L123.59,18.20 L124.23,18.31 L124.87,18.41 L125.51,18.52 L126.15,18.63 L126.79,18.74 L127.43,18.85 L128.07,18.96 L128.71,19.07 L129.35,19.18 L129.99,19.30 L130.63,19.42 L131.27,19.53 L131.90,19.65 L132.54,19.77 L133.18,19.89 L133.82,20.02 L134.46,20.14 L135.09,20.27 L135.73,20.39 L136.37,20.52 L137.00,20.65 L137.64,20.78 L138.28,20.91 L138.91,21.04 L139.55,21.17 L140.18,21.31 L140.82,21.45 L141.45,21.58 L142.09,21.72 L142.72,21.86 L143.36,22.00 L143.99,22.14 L144.62,22.29 L145.26,22.43 L145.89,22.57 L146.52,22.72 L147.16,22.87 L147.79,23.02 L148.42,23.17 L149.05,23.32 L149.68,23.47 L150.31,23.62 L150.95,23.78 L151.58,23.93 L152.21,24.09 L152.84,24.25 L153.47,24.41 L154.10,24.57 L154.73,24.73 L155.36,24.89 L155.98,25.05 L156.61,25.22 L157.24,25.38 L157.87,25.55 L158.50,25.72 L159.13,25.89 L159.75,26.06 L160.38,26.23 L161.01,26.40 L161.63,26.58 L162.26,26.75 L162.88,26.93 L163.51,27.10 L164.14,27.28 L164.76,27.46 L165.39,27.64 L166.01,27.82 L166.63,28.00 L167.26,28.18 L167.88,28.37 L168.50,28.55 L169.13,28.74 L169.75,28.93 L170.37,29.12 L170.99,29.31 L171.61,29.50 L172.24,29.69 L172.86,29.88 L173.48,30.08 L174.10,30.27 L174.72,30.47 L175.34,30.66 L175.96,30.86 L176.58,31.06 L177.19,31.26 L177.81,31.46 L178.43,31.66 L179.05,31.87 L179.67,32.07 L180.28,32.28 L180.90,32.48 L181.52,32.69 L182.13,32.90 L182.75,33.11 L183.36,33.32 L183.98,33.53 L184.59,33.74 L185.21,33.96 L185.82,34.17 L186.43,34.39 L187.05,34.60 L187.66,34.82 L188.27,35.04 L188.88,35.26 L189.50,35.48 L190.11,35.70 L190.72,35.92 L191.33,36.15 L191.94,36.37 L192.55,36.60 L193.16,36.82 L193.77,37.05 L194.38,37.28 L194.99,37.51 L195.59,37.74 L196.20,37.97 L196.81,38.21 L197.42,38.44 L198.02,38.67 L198.63,38.91 L199.23,39.15 L199.84,39.39 L200.44,39.62 L201.05,39.86 L201.65,40.10 L202.26,40.35 L202.86,40.59 L203.46,40.83 L204.06,41.08 L204.67,41.32 L205.27,41.57 L205.87,41.82 L206.47,42.07 L207.07,42.32 L207.67,42.57 L208.27,42.82 L208.87,43.07 L209.47,43.33 L210.07,43.58 L210.66,43.84 L211.26,44.09 L211.86,44.35 L212.46,44.61 L213.05,44.87 L213.65,45.13 L214.24,45.39 L214.84,45.65 L215.43,45.92 L216.03,46.18 L216.62,46.45 L217.21,46.71 L217.81,46.98 L218.40,47.25 L218.99,47.52 L219.58,47.79 L220.17,48.06 L220.76,48.33 L221.35,48.60 L221.94,48.88 L222.53,49.15 L223.12,49.43 L223.71,49.71 L224.29,49.98 L224.88,50.26 L225.47,50.54 L226.05,50.82 L226.64,51.10 L227.23,51.39 L227.81,51.67 L228.40,51.95 L228.98,52.24 L229.56,52.53 L230.15,52.81 L230.73,53.10 L231.31,53.39 L231.89,53.68 L232.47,53.97 L233.05,54.26 L233.63,54.56 L234.21,54.85 L234.79,55.15 L235.37,55.44 L235.95,55.74 L236.52,56.04 L237.10,56.33 L237.68,56.63 L238.25,56.93 L238.83,57.24 L239.40,57.54 L239.98,57.84 L240.55,58.14 L241.13,58.45 L241.70,58.75 L242.27,59.06 L242.84,59.37 L243.41,59.68 L243.99,59.99 L244.56,60.30 L245.13,60.61 L245.69,60.92 L246.26,61.23 L246.83,61.55 L247.40,61.86 L247.97,62.18 L248.53,62.50 L249.10,62.81 L249.66,63.13 L250.23,63.45 L250.79,63.77 L251.36,64.09 L251.92,64.41 L252.48,64.74 L253.04,65.06 L253.61,65.39 L254.17,65.71 L254.73,66.04 L255.29,66.37 L255.85,66.69 L256.41,67.02 L256.96,67.35 L257.52,67.69 L258.08,68.02 L258.64,68.35 L259.19,68.68 L259.75,69.02 L260.30,69.36 L260.86,69.69 L261.41,70.03 L261.96,70.37 L262.51,70.71 L263.07,71.05 L263.62,71.39 L264.17,71.73 L264.72,72.07 L265.27,72.42 L265.82,72.76 L266.37,73.11 L266.91,73.46 L267.46,73.80 L268.01,74.15 L268.55,74.50 L269.10,74.85 L269.64,75.20 L270.19,75.56 L270.73,75.91 L271.27,76.26 L271.81,76.62 L272.36,76.97 L272.90,77.33 L273.44,77.69 L273.98,78.05 L274.52,78.41 L275.05,78.77 L275.59,79.13 L276.13,79.49 L276.67,79.86 L277.20,80.22 L277.74,80.59 L278.27,80.95 L278.80,81.32 L279.34,81.69 L279.87,82.06 L280.40,82.43 L280.93,82.80 L281.46,83.17 L281.99,83.55 L282.52,83.92 L283.05,84.29 L283.58,84.67 L284.11,85.05 L284.63,85.43 L285.16,85.80 L285.68,86.18 L286.21,86.56 L286.73,86.95 L287.26,87.33 L287.78,87.71 L288.30,88.10 L288.82,88.48 L289.34,88.87 L289.86,89.26 L290.38,89.65 L290.90,90.04 L291.42,90.43 L291.93,90.82 L292.45,91.21 L292.97,91.60 L293.48,92.00 L293.99,92.39 L294.51,92.79 L295.02,93.19 L295.53,93.59 L296.04,93.99 L296.55,94.39 L297.06,94.79 L297.57,95.19 L298.08,95.59 L298.59,96.00 L299.10,96.40 L299.60,96.81 L300.11,97.22 L300.61,97.62 L301.12,98.03 L301.62,98.44 L302.12,98.85 L302.63,99.27 L303.13,99.68 L303.63,100.09 L304.13,100.51 L304.63,100.93 L305.12,101.34 L305.62,101.76 L306.12,102.18 L306.61,102.60 L307.11,103.02 L307.60,103.44 L308.10,103.87 L308.59,104.29 L309.08,104.71 L309.57,105.14 L310.06,105.57 L310.55,106.00 L311.04,106.42 L311.53,106.85 L312.02,107.28 L312.50,107.72 L312.99,108.15 L313.47,108.58 L313.96,109.02 L314.44,109.45 L314.92,109.89 L315.40,110.32 L315.88,110.76 L316.36,111.20 L316.84,111.64 L317.32,112.08 L317.80,112.52 L318.28,112.97 L318.75,113.41 L319.23,113.85 L319.70,114.30 L320.17,114.74 L320.65,115.19 L321.12,115.64 L321.59,116.09 L322.06,116.54 L322.53,116.99 L323.00,117.44 L323.46,117.89 L323.93,118.35 L324.40,118.80 L324.86,119.25 L325.32,119.71 L325.79,120.17 L326.25,120.62 L326.71,121.08 L327.17,121.54 L327.63,122.00 L328.09,122.46 L328.55,122.92 L329.00,123.39 L329.46,123.85 L329.91,124.31 L330.37,124.78 L330.82,125.25 L331.27,125.71 L331.73,126.18 L332.18,126.65 L332.63,127.12 L333.07,127.59 L333.52,128.06 L333.97,128.53 L334.42,129.00 L334.86,129.47 L335.30,129.95 L335.75,130.42 L336.19,130.90 L336.63,131.38 L337.07,131.85 L337.51,132.33 L337.95,132.81 L338.39,133.29 L338.82,133.77 L339.26,134.25 L339.69,134.73 L340.13,135.21 L340.56,135.70 L340.99,136.18 L341.42,136.67 L341.85,137.15 L342.28,137.64 L342.71,138.13 L343.14,138.61 L343.56,139.10 L343.99,139.59 L344.41,140.08 L344.84,140.57 L345.26,141.07 L345.68,141.56 L346.10,142.05 L346.52,142.55 L346.94,143.04 L347.35,143.54 L347.77,144.04 L348.19,144.53 L348.60,145.03 L349.01,145.53 L349.43,146.03 L349.84,146.53 L350.25,147.03 L350.66,147.53 L351.07,148.04 L351.47,148.54 L351.88,149.05 L352.29,149.55 L352.69,150.06 L353.09,150.56 L353.50,151.07 L353.90,151.58 L354.30,152.09 L354.70,152.60 L355.10,153.11 L355.49,153.62 L355.89,154.14 L356.29,154.65 L356.68,155.16 L357.07,155.68 L357.46,156.19 L357.85,156.71 L358.24,157.23 L358.63,157.75 L359.02,158.27 L359.41,158.79 L359.79,159.31 L360.17,159.83 L360.56,160.35 L360.94,160.88 L361.32,161.40 L361.70,161.93 L362.07,162.46 L362.45,162.98 L362.83,163.51 L363.20,164.04 L363.57,164.57 L363.94,165.10 L364.31,165.64 L364.68,166.17 L365.05,166.70 L365.41,167.24 L365.78,167.77 L366.14,168.31 L366.50,168.85 L366.86,169.39 L367.22,169.93 L367.58,170.47 L367.93,171.01 L368.29,171.56 L368.64,172.10 L368.99,172.65 L369.34,173.19 L369.69,173.74 L370.04,174.29 L370.38,174.84 L370.72,175.39 L371.07,175.94 L371.41,176.49 L371.75,177.05 L372.08,177.60 L372.42,178.16 L372.75,178.71 L373.08,179.27 L373.41,179.83 L373.74,180.39 L374.07,180.95 L374.40,181.51 L374.72,182.08 L375.04,182.64 L375.36,183.21 L375.68,183.77 L376.00,184.34 L376.32,184.91 L376.63,185.48 L376.94,186.05 L377.25,186.62 L377.56,187.19 L377.87,187.76 L378.18,188.34 L378.48,188.91 L378.78,189.49 L379.08,190.06 L379.38,190.64 L379.68,191.22 L379.97,191.80 L380.26,192.38 L380.55,192.96 L380.84,193.54 L381.13,194.13 L381.42,194.71 L381.70,195.29 L381.98,195.88 L382.26,196.47 L382.54,197.06 L382.82,197.64 L383.09,198.23 L383.36,198.82 L383.63,199.41 L383.90,200.01 L384.17,200.60 L384.43,201.19 L384.69,201.79 L384.95,202.38 L385.21,202.98 L385.47,203.58 L385.73,204.17 L385.98,204.77 L386.23,205.37 L386.48,205.97 L386.72,206.58 L386.97,207.18 L387.21,207.78 L387.45,208.38 L387.69,208.99 L387.93,209.59 L388.16,210.20 L388.39,210.81 L388.62,211.41 L388.85,212.02 L389.08,212.63 L389.30,213.24 L389.52,213.85 L389.74,214.46 L389.95,215.08 L390.17,215.69 L390.38,216.30 L390.59,216.92 L390.80,217.53 L391.00,218.15 L391.21,218.77 L391.41,219.38 L391.61,220.00 L391.80,220.62 L392.00,221.24 L392.19,221.86 L392.38,222.48 L392.56,223.10 L392.75,223.72 L392.93,224.35 L393.11,224.97 L393.29,225.60 L393.46,226.22 L393.63,226.85 L393.80,227.47 L393.97,228.10 L394.13,228.73 L394.29,229.36 L394.45,229.98 L394.61,230.61 L394.76,231.24 L394.92,231.88 L395.07,232.51 L395.21,233.14 L395.36,233.77 L395.50,234.41 L395.64,235.04 L395.77,235.67 L395.91,236.31 L396.04,236.94 L396.16,237.58 L396.29,238.22 L396.41,238.86 L396.53,239.49 L396.65,240.13 L396.77,240.77 L396.88,241.41 L396.99,242.05 L397.10,242.69 L397.20,243.33 L397.30,243.97 L397.40,244.62 L397.50,245.26 L397.60,245.90 L397.69,246.55 L397.79,247.19 L397.88,247.83 L397.96,248.48 L398.05,249.12 L398.13,249.77 L398.21,250.41 L398.29,251.06 L398.37,251.70 L398.45,252.35 L398.52,253.00 L398.60,253.64 L398.67,254.29 L398.74,254.94 L398.80,255.58 L398.87,256.23 L398.93,256.88 L399.00,257.53 L399.06,258.18 L399.12,258.82 L399.17,259.47 L399.23,260.12 L399.29,260.77 L399.34,261.42 L399.39,262.07 L399.44,262.71 L399.49,263.36 L399.54,264.01 L399.59,264.66 L399.64,265.31 L399.68,265.96 L399.73,266.61 L399.77,267.26 L399.81,267.90 L399.86,268.55 L399.90,269.20" fill="none" stroke="#000" stroke-width="1.1"/>
<rect x="70.5" y="14.2" width="413.0" height="255.3" fill="none" stroke="#222" stroke-opacity="0.52" stroke-width="1"/>
<path d="M70.50,269.5v-5M70.50,14.2v5M70.5,269.50h5M483.5,269.50h-5M91.15,269.5v-3M91.15,14.2v3M70.5,256.74h3M483.5,256.74h-3M111.80,269.5v-3M111.80,14.2v3M70.5,243.97h3M483.5,243.97h-3M132.45,269.5v-3M132.45,14.2v3M70.5,231.20h3M483.5,231.20h-3M153.10,269.5v-5M153.10,14.2v5M70.5,218.44h5M483.5,218.44h-5M173.75,269.5v-3M173.75,14.2v3M70.5,205.68h3M483.5,205.68h-3M194.40,269.5v-3M194.40,14.2v3M70.5,192.91h3M483.5,192.91h-3M215.05,269.5v-3M215.05,14.2v3M70.5,180.14h3M483.5,180.14h-3M235.70,269.5v-5M235.70,14.2v5M70.5,167.38h5M483.5,167.38h-5M256.35,269.5v-3M256.35,14.2v3M70.5,154.61h3M483.5,154.61h-3M277.00,269.5v-3M277.00,14.2v3M70.5,141.85h3M483.5,141.85h-3M297.65,269.5v-3M297.65,14.2v3M70.5,129.08h3M483.5,129.08h-3M318.30,269.5v-5M318.30,14.2v5M70.5,116.32h5M483.5,116.32h-5M338.95,269.5v-3M338.95,14.2v3M70.5,103.56h3M483.5,103.56h-3M359.60,269.5v-3M359.60,14.2v3M70.5,90.79h3M483.5,90.79h-3M380.25,269.5v-3M380.25,14.2v3M70.5,78.03h3M483.5,78.03h-3M400.90,269.5v-5M400.90,14.2v5M70.5,65.26h5M483.5,65.26h-5M421.55,269.5v-3M421.55,14.2v3M70.5,52.49h3M483.5,52.49h-3M442.20,269.5v-3M442.20,14.2v3M70.5,39.73h3M483.5,39.73h-3M462.85,269.5v-3M462.85,14.2v3M70.5,26.97h3M483.5,26.97h-3M483.50,269.5v-5M483.50,14.2v5M70.5,14.20h5M483.5,14.20h-5" stroke="#222" stroke-opacity="0.52" stroke-width="1" fill="none"/>
<circle cx="266.9" cy="269.3" r="3.55" fill="#fff" stroke="#0000ff" stroke-width="1.35"/>
<circle cx="333.35" cy="269.5" r="3.75" fill="#fff" stroke="#800080" stroke-width="1.5" stroke-dasharray="0.85 0.6"/>
<circle cx="374.1" cy="269.15" r="4.1" fill="#ff0000"/>
<circle cx="399.95" cy="269.15" r="4.1" fill="#000"/>
<text transform="translate(70.50,295.20) scale(1,1.03)" font-size="24" text-anchor="middle">0.0</text>
<text transform="translate(66.00,277.50) scale(1,1.03)" font-size="24" text-anchor="end">0.0</text>
<text transform="translate(153.10,295.20) scale(1,1.03)" font-size="24" text-anchor="middle">0.2</text>
<text transform="translate(66.00,226.44) scale(1,1.03)" font-size="24" text-anchor="end">0.2</text>
<text transform="translate(235.70,295.20) scale(1,1.03)" font-size="24" text-anchor="middle">0.4</text>
<text transform="translate(66.00,175.38) scale(1,1.03)" font-size="24" text-anchor="end">0.4</text>
<text transform="translate(318.30,295.20) scale(1,1.03)" font-size="24" text-anchor="middle">0.6</text>
<text transform="translate(66.00,124.32) scale(1,1.03)" font-size="24" text-anchor="end">0.6</text>
<text transform="translate(400.90,295.20) scale(1,1.03)" font-size="24" text-anchor="middle">0.8</text>
<text transform="translate(66.00,73.26) scale(1,1.03)" font-size="24" text-anchor="end">0.8</text>
<text transform="translate(484.60,295.20) scale(1,1.03)" font-size="24" text-anchor="middle">1.0</text>
<text transform="translate(66.50,22.20) scale(1,1.03)" font-size="24" text-anchor="end">1.0</text>
<text transform="translate(254.60,331.20) scale(1,1)" font-size="24" text-anchor="start"><tspan font-style="italic">ω</tspan></text>
<text transform="translate(277.00,335.50) scale(1.2,1)" font-size="30" text-anchor="start">/</text>
<text transform="translate(289.90,331.20) scale(0.92,1)" font-size="24" text-anchor="start">J</text>
<text transform="translate(20.90,172.30) rotate(-90) scale(1,1)" font-size="24" text-anchor="start">k</text>
<text transform="translate(20.90,154.60) rotate(-90) scale(1,1)" font-size="24" text-anchor="start">T</text>
<text transform="translate(25.00,134.80) rotate(-90) scale(1.2,1)" font-size="30" text-anchor="start">/</text>
<text transform="translate(20.90,122.50) rotate(-90) scale(0.92,1)" font-size="24" text-anchor="start">J</text>
<text transform="translate(405.10,108.60) scale(1.01,1.02)" font-size="55" text-anchor="start" font-weight="bold">P</text>
<text transform="translate(106.00,223.50) scale(1.0,1.02)" font-size="55" text-anchor="start" font-weight="bold">F</text>
</svg>
</body></html>
